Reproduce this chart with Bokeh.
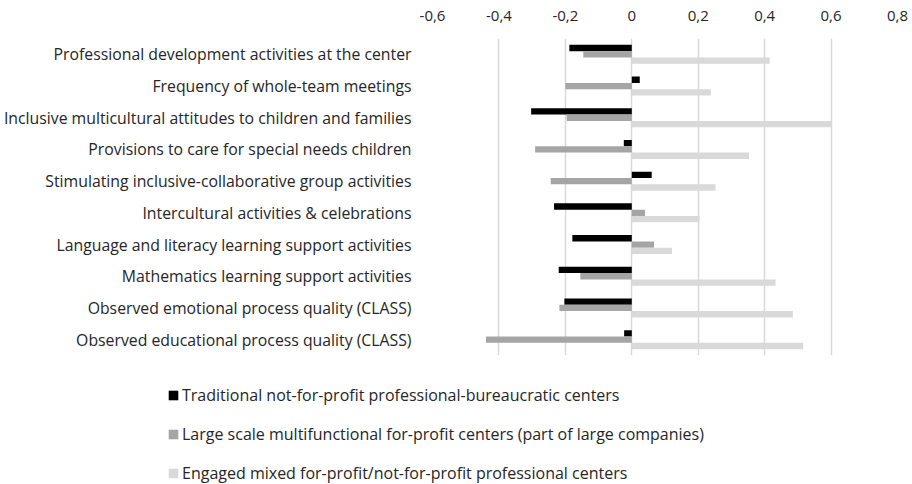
from bokeh.plotting import figure
from bokeh.models import (Range1d, FactorRange, FixedTicker, CustomJSTickFormatter,
                          ColumnDataSource, Legend, LegendItem, LinearAxis)
from bokeh.transform import dodge
from bokeh.embed import file_html
from bokeh.resources import INLINE

categories = [
    "Professional development activities at the center",
    "Frequency of whole-team meetings",
    "Inclusive multicultural attitudes to children and families",
    "Provisions to care for special needs children",
    "Stimulating inclusive-collaborative group activities",
    "Intercultural activities & celebrations",
    "Language and literacy learning support activities",
    "Mathematics learning support activities",
    "Observed emotional process quality (CLASS)",
    "Observed educational process quality (CLASS)",
]
traditional = [-0.188, 0.024, -0.303, -0.024, 0.060, -0.234, -0.179, -0.220, -0.203, -0.023]
large_scale = [-0.146, -0.200, -0.196, -0.291, -0.244, 0.040, 0.067, -0.155, -0.218, -0.439]
engaged = [0.415, 0.238, 0.600, 0.353, 0.252, 0.204, 0.121, 0.433, 0.485, 0.516]
series_names = [
    "Traditional not-for-profit professional-bureaucratic centers",
    "Large scale multifunctional for-profit centers (part of large companies)",
    "Engaged mixed for-profit/not-for-profit professional centers",
]
colors = ["#000000", "#a5a5a5", "#d9d9d9"]
x_ticks = [-0.6, -0.4, -0.2, 0, 0.2, 0.4, 0.6, 0.8]

FONT = "Open Sans"
TXT = "#262626"

source = ColumnDataSource(dict(cat=categories, trad=traditional, large=large_scale, eng=engaged))

p = figure(width=912, height=372, output_backend="svg", toolbar_location=None,
           y_range=FactorRange(*categories[::-1]), x_range=Range1d(-0.6, 0.8),
           x_axis_location=None, min_border_left=432, min_border_right=15,
           min_border_top=38, min_border_bottom=17)
p.outline_line_color = None

top_axis = LinearAxis(ticker=FixedTicker(ticks=x_ticks),
                      formatter=CustomJSTickFormatter(code="return Math.abs(tick) < 1e-9 ? '0' : tick.toFixed(1).replace('.', ',');"))
top_axis.axis_line_color = None
top_axis.major_tick_line_color = None
top_axis.minor_tick_line_color = None
top_axis.major_label_text_font = FONT
top_axis.major_label_text_font_size = "15px"
top_axis.major_label_text_color = TXT
top_axis.major_label_standoff = 12
p.add_layout(top_axis, "above")

p.xgrid.ticker = FixedTicker(ticks=x_ticks)
p.xgrid.grid_line_color = "#d9d9d9"
p.xgrid.grid_line_width = 1.5
p.ygrid.grid_line_color = None

yax = p.yaxis[0]
yax.axis_line_color = None
yax.major_tick_line_color = None
yax.minor_tick_line_color = None
yax.major_label_text_font = FONT
yax.major_label_text_font_size = "15.8px"
yax.major_label_text_color = TXT
yax.major_label_standoff = 15

h = 0.2
p.hbar(y=dodge("cat", 0.2, range=p.y_range), left=0, right="trad", height=h,
       source=source, fill_color=colors[0], line_color=None)
p.hbar(y=dodge("cat", 0.0, range=p.y_range), left=0, right="large", height=h,
       source=source, fill_color=colors[1], line_color=None)
p.hbar(y=dodge("cat", -0.2, range=p.y_range), left=0, right="eng", height=h,
       source=source, fill_color=colors[2], line_color=None)

# legend panel (separate root so its frame is not aligned to the chart's frame)
lg = figure(width=912, height=112, output_backend="svg", toolbar_location=None,
            x_range=Range1d(0, 1), y_range=Range1d(0, 1),
            min_border_left=155, min_border_right=0, min_border_top=0, min_border_bottom=0)
lg.axis.visible = False
lg.grid.visible = False
lg.outline_line_color = None
# legend key renderers: a degenerate quad placed outside the visible range
dummies = [lg.quad(left=[-5], right=[-5], top=[-5], bottom=[-5], fill_color=c, line_color=None)
           for c in colors]
legend = Legend(items=[LegendItem(label=n, renderers=[r]) for n, r in zip(series_names, dummies)],
                location="top_left", orientation="vertical",
                label_text_font=FONT, label_text_font_size="16px", label_text_color=TXT,
                glyph_width=12, glyph_height=12, label_height=20, label_standoff=3,
                spacing=17, padding=0, margin=12,
                background_fill_alpha=0, border_line_color=None)
lg.add_layout(legend, "center")

open("out.html", "w").write(file_html([p, lg], INLINE))
